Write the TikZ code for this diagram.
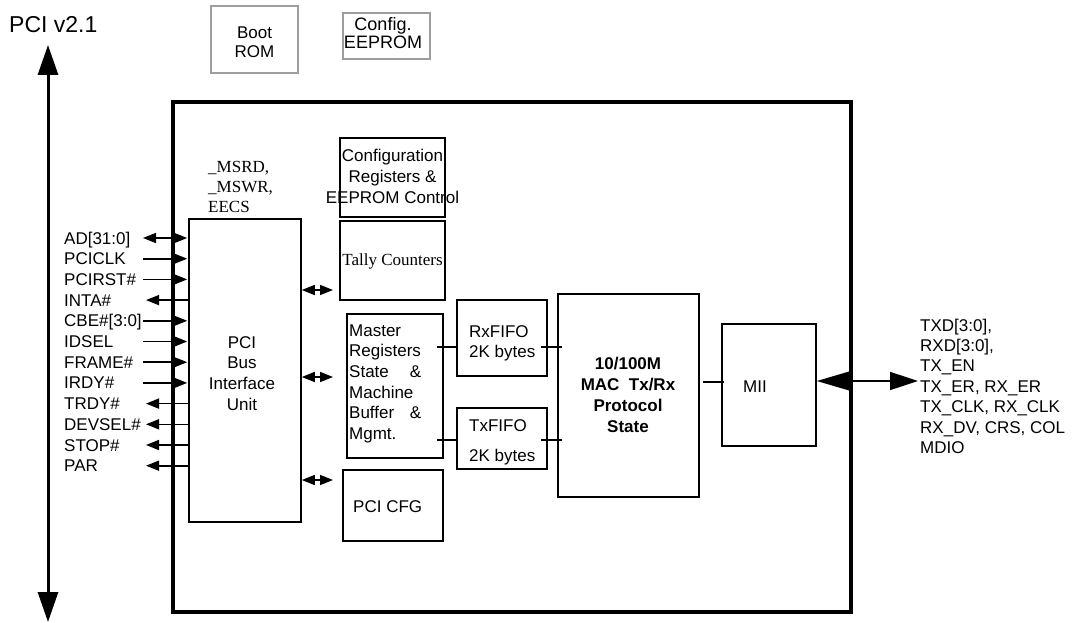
\documentclass[tikz,border=0pt]{standalone}
\usepackage{fontspec}
\setmainfont{Liberation Serif}
\newfontfamily\arialf{Liberation Sans}
\usetikzlibrary{arrows.meta,fit}
\begin{document}
\begin{tikzpicture}[x=1pt,y=-1pt,
  blk/.style={draw, line width=1.6pt, inner sep=0pt},
  gblk/.style={draw=black!38, line width=1.6pt, inner sep=0pt},
  outerbox/.style={draw, line width=3.5pt, inner sep=0pt},
  sf/.style={font=\arialf\fontsize{17}{20.7}\selectfont, inner sep=0pt},
  rm/.style={font=\fontsize{17}{20}\selectfont, inner sep=0pt},
  lbl/.style={sf, anchor=base west},
  sig/.style={line width=1.6pt},
  tri/.tip={Triangle[length=13pt,width=10pt]},
  rin/.style={sig, -tri, shorten >=1pt},
  lout/.style={sig, -tri},
  dbl/.style={sig, tri-tri}
]
\useasboundingbox (0,0) rectangle (1078,623);

% title and PCI bus
\node[anchor=base west, font=\arialf\fontsize{23}{27}\selectfont, inner sep=0pt] (title) at (9,33) {PCI v2.1};
\coordinate (bt) at (48,45);
\coordinate (bb) at (48,622);
\draw[line width=3pt, {Triangle[length=30pt,width=20pt]}-{Triangle[length=30pt,width=20pt]}] (bt) -- (bb);

% external memories
\node[gblk, fit={(211,6) (298,73)}] (boot) {};
\node[sf, anchor=base, align=center, font=\arialf\fontsize{17}{19}\selectfont] (boottxt) at (254.5,58) {Boot\\ROM};
\node[gblk, fit={(343,13) (430,59)}] (eeprom) {};
\node[sf, anchor=base, align=center, font=\arialf\fontsize{18}{18}\selectfont] (eepromtxt) at (383,49) {Config.\\EEPROM};

% outer chip box
\node[outerbox, fit={(173,102) (851,612)}] (chip) {};

% internal blocks
\node[blk, fit={(189,219) (301,522)}] (pci) {};
\node[blk, fit={(340,138) (445,217)}] (cfgreg) {};
\node[blk, fit={(340,221) (445,300)}] (tally) {};
\node[blk, fit={(347,314) (443,458)}] (master) {};
\node[blk, fit={(343,470) (443,541)}] (pcicfg) {};
\node[blk, fit={(457,300) (547,376)}] (rx) {};
\node[blk, fit={(457,408) (547,469)}] (tx) {};
\node[blk, fit={(558,294) (699,497)}] (mac) {};
\node[blk, fit={(722,324) (816,446)}] (mii) {};

% texts of blocks
\node[rm, anchor=base west, align=left] (mstxt) at (208,212) {\_MSRD,\\\_MSWR,\\EECS};
\node[sf, anchor=base, align=center] (pcitxt) at (242,410.1) {PCI\\Bus\\Interface\\Unit};
\node[sf, anchor=base, align=center, font=\arialf\fontsize{17}{21}\selectfont] (cfgtxt) at (392.5,203) {Configuration\\Registers \&\\EEPROM Control};
\node[rm, anchor=base] (tallytxt) at (392.5,265) {Tally Counters};
\node[sf, anchor=base west, align=left] (mastertxt) at (349,439.5) {Master\\Registers\\\makebox[72pt][l]{State\hfill\&}\\Machine\\\makebox[72pt][l]{Buffer\hfill\&}\\Mgmt.};
\node[sf, anchor=base west, align=left] (rxtxt) at (469,357.7) {RxFIFO\\2K bytes};
\node[sf, anchor=base west, align=left] (txtxt) at (469,461) {TxFIFO\\[9.3pt]2K bytes};
\node[sf, anchor=base, align=center, font=\arialf\bfseries\fontsize{17}{21}\selectfont] (mactxt) at (628,432) {10/100M\\MAC\ \ Tx/Rx\\Protocol\\State};
\node[sf, anchor=base west] (miitxt) at (743,392) {MII};
\node[sf, anchor=base west] (pcicfgtxt) at (353,512) {PCI CFG};
\node[sf, anchor=base west, align=left, font=\arialf\fontsize{17}{20.4}\selectfont] (phytxt) at (920,453.4) {TXD[3:0],\\RXD[3:0],\\TX\_EN\\TX\_ER, RX\_ER\\TX\_CLK, RX\_CLK\\RX\_DV, CRS, COL\\MDIO};

% PCI signals
\node[lbl] (lAD) at (64,244) {AD[31:0]};
\coordinate (cAD) at (143,238);
\draw[dbl, shorten >=1pt] (cAD) -- (pci.west |- cAD);

\node[lbl] (lCLK) at (64,264.7) {PCICLK};
\coordinate (cCLK) at (143,258.7);
\draw[rin] (cCLK) -- (pci.west |- cCLK);

\node[lbl] (lRST) at (64,285.4) {PCIRST\#};
\coordinate (cRST) at (143,279.4);
\draw[rin] (cRST) -- (pci.west |- cRST);

\node[lbl] (lINTA) at (64,306.1) {INTA\#};
\coordinate (cINTA) at (146,300.1);
\draw[lout] (pci.west |- cINTA) -- (cINTA);

\node[lbl] (lCBE) at (64,326.8) {CBE\#[3:0]};
\coordinate (cCBE) at (143,320.8);
\draw[rin] (cCBE) -- (pci.west |- cCBE);

\node[lbl] (lIDSEL) at (64,347.5) {IDSEL};
\coordinate (cIDSEL) at (143,341.5);
\draw[rin] (cIDSEL) -- (pci.west |- cIDSEL);

\node[lbl] (lFRAME) at (64,368.2) {FRAME\#};
\coordinate (cFRAME) at (143,362.2);
\draw[rin] (cFRAME) -- (pci.west |- cFRAME);

\node[lbl] (lIRDY) at (64,388.9) {IRDY\#};
\coordinate (cIRDY) at (143,382.9);
\draw[rin] (cIRDY) -- (pci.west |- cIRDY);

\node[lbl] (lTRDY) at (64,409.6) {TRDY\#};
\coordinate (cTRDY) at (146,403.6);
\draw[lout] (pci.west |- cTRDY) -- (cTRDY);

\node[lbl] (lDEVSEL) at (64,430.3) {DEVSEL\#};
\coordinate (cDEVSEL) at (146,424.3);
\draw[lout] (pci.west |- cDEVSEL) -- (cDEVSEL);

\node[lbl] (lSTOP) at (64,451) {STOP\#};
\coordinate (cSTOP) at (146,445);
\draw[lout] (pci.west |- cSTOP) -- (cSTOP);

\node[lbl] (lPAR) at (64,471.7) {PAR};
\coordinate (cPAR) at (146,465.7);
\draw[lout] (pci.west |- cPAR) -- (cPAR);

% PCI unit to internal blocks
\coordinate (dT) at (333,290);
\draw[dbl] (pci.east |- dT) -- (dT);
\coordinate (dM) at (333,377);
\draw[dbl] (pci.east |- dM) -- (dM);
\coordinate (dC) at (333,480);
\draw[dbl] (pci.east |- dC) -- (dC);

% master to FIFOs
\coordinate (mr) at (437,347);
\draw[sig] (mr) -- (rx.west |- mr);
\coordinate (mt) at (437,440);
\draw[sig] (mt) -- (tx.west |- mt);

% FIFOs to MAC
\coordinate (rm) at (541,347);
\draw[sig] (rm) -- ([xshift=5pt]mac.west |- rm);
\coordinate (tm) at (541,440);
\draw[sig] (tm) -- ([xshift=5pt]mac.west |- tm);

% MAC to MII
\coordinate (mm) at (703,382);
\draw[sig] (mm) -- ([xshift=3pt]mii.west |- mm);

% MII to PHY signals
\coordinate (phy) at (918,381);
\draw[sig, {Triangle[length=33pt,width=19pt]}-{Triangle[length=28pt,width=18pt]}] (mii.east |- phy) -- (phy);

\end{tikzpicture}
\end{document}
